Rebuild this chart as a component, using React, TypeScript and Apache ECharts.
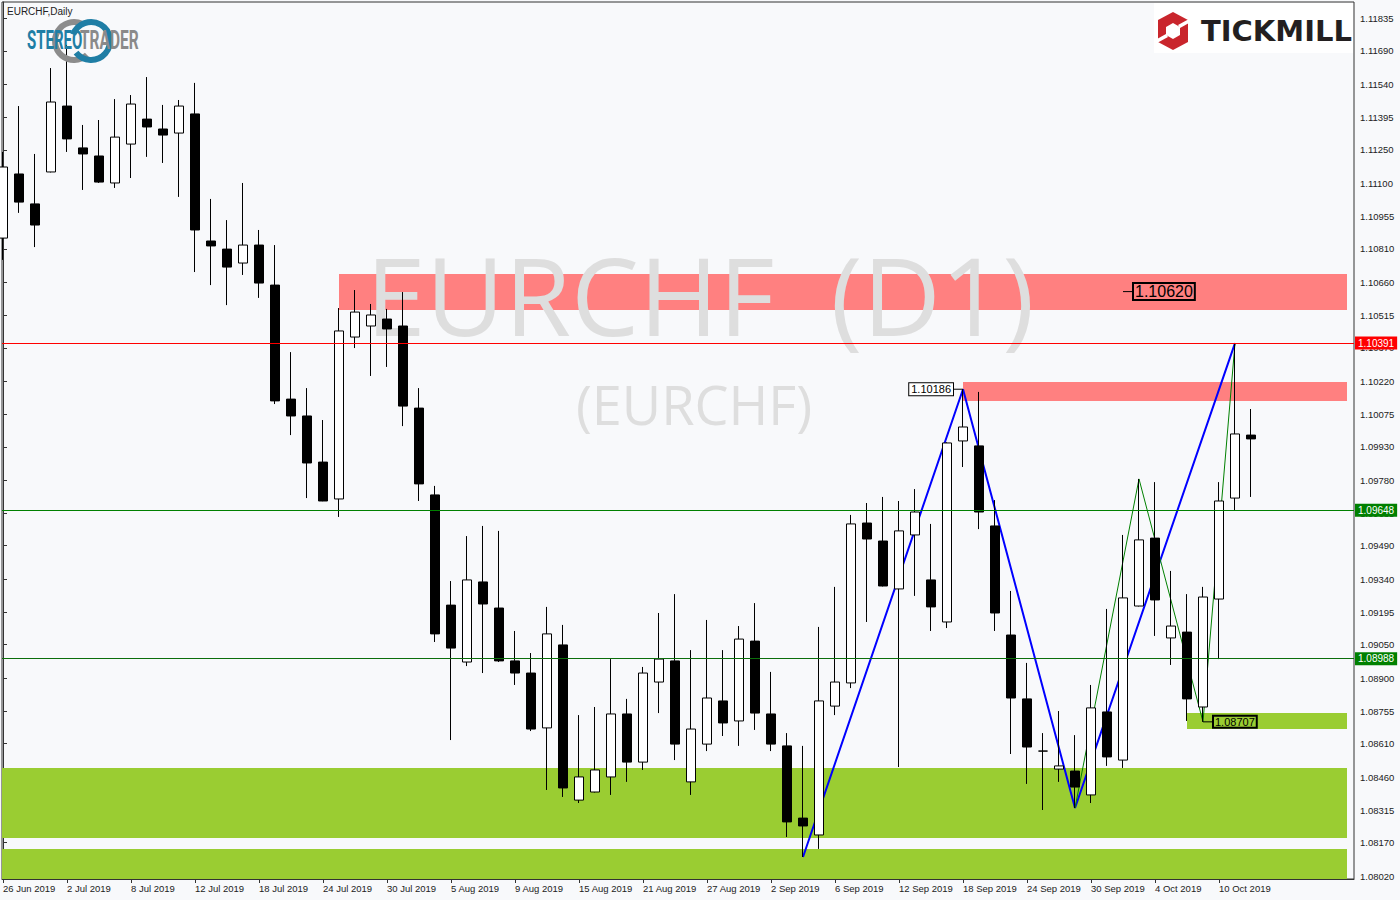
import React, { useEffect, useRef } from "react";
import * as echarts from "echarts";

// ---------- DATA ----------
const dates = [
  "26 Jun 2019", "27 Jun 2019", "28 Jun 2019",
  "1 Jul 2019", "2 Jul 2019", "3 Jul 2019", "4 Jul 2019", "5 Jul 2019", "8 Jul 2019", "9 Jul 2019", "10 Jul 2019",
  "11 Jul 2019", "12 Jul 2019", "15 Jul 2019", "16 Jul 2019", "17 Jul 2019", "18 Jul 2019", "19 Jul 2019", "22 Jul 2019",
  "23 Jul 2019", "24 Jul 2019", "25 Jul 2019", "26 Jul 2019", "29 Jul 2019", "30 Jul 2019", "31 Jul 2019",
  "1 Aug 2019", "2 Aug 2019", "5 Aug 2019", "6 Aug 2019", "7 Aug 2019", "8 Aug 2019", "9 Aug 2019", "12 Aug 2019",
  "13 Aug 2019", "14 Aug 2019", "15 Aug 2019", "16 Aug 2019", "19 Aug 2019", "20 Aug 2019", "21 Aug 2019", "22 Aug 2019",
  "23 Aug 2019", "26 Aug 2019", "27 Aug 2019", "28 Aug 2019", "29 Aug 2019", "30 Aug 2019",
  "2 Sep 2019", "3 Sep 2019", "4 Sep 2019", "5 Sep 2019", "6 Sep 2019", "9 Sep 2019", "10 Sep 2019", "11 Sep 2019",
  "12 Sep 2019", "13 Sep 2019", "16 Sep 2019", "17 Sep 2019", "18 Sep 2019", "19 Sep 2019", "20 Sep 2019", "23 Sep 2019",
  "24 Sep 2019", "25 Sep 2019", "26 Sep 2019", "27 Sep 2019", "30 Sep 2019",
  "1 Oct 2019", "2 Oct 2019", "3 Oct 2019", "4 Oct 2019", "7 Oct 2019", "8 Oct 2019", "9 Oct 2019", "10 Oct 2019",
  "11 Oct 2019", "14 Oct 2019",
];

const opens = [
  1.10858, 1.11143, 1.1101, 1.11152, 1.11445, 1.11259, 1.11223, 1.11103, 1.11276, 1.11387,
  1.11343, 1.11325, 1.1141, 1.10845, 1.10809, 1.10747, 1.10827, 1.10649, 1.10142, 1.10067,
  1.09862, 1.09698, 1.10418, 1.10467, 1.10498, 1.10467, 1.10102, 1.09716, 1.09226, 1.08973,
  1.09329, 1.09213, 1.08978, 1.08924, 1.0868, 1.09049, 1.08359, 1.08395, 1.08462, 1.08742,
  1.08528, 1.08884, 1.08978, 1.0844, 1.08608, 1.088, 1.08711, 1.09066, 1.08742, 1.086,
  1.08279, 1.08204, 1.08777, 1.0888, 1.09591, 1.09511, 1.09298, 1.09538, 1.09338, 1.09151,
  1.09956, 1.09934, 1.09578, 1.09093, 1.08809, 1.08577, 1.08497, 1.08488, 1.08382, 1.08751,
  1.08537, 1.09222, 1.09524, 1.0908, 1.09106, 1.08773, 1.09253, 1.09702, 1.09982,
];

const closes = [
  1.11174, 1.11018, 1.10916, 1.11463, 1.11299, 1.11232, 1.11107, 1.11307, 1.11454, 1.11352,
  1.11316, 1.11445, 1.10894, 1.10823, 1.10729, 1.10827, 1.10658, 1.10134, 1.10067, 1.09858,
  1.09689, 1.10445, 1.10529, 1.10516, 1.10454, 1.10111, 1.09765, 1.09098, 1.09035, 1.09338,
  1.09231, 1.08978, 1.08924, 1.08675, 1.09098, 1.08413, 1.08462, 1.08493, 1.08742, 1.08528,
  1.08924, 1.08986, 1.08608, 1.08675, 1.08813, 1.08702, 1.09075, 1.08746, 1.08608, 1.08262,
  1.08244, 1.088, 1.08884, 1.09587, 1.0952, 1.09311, 1.09556, 1.0964, 1.09218, 1.09947,
  1.10018, 1.0964, 1.09191, 1.08813, 1.08595, 1.08577, 1.08511, 1.08417, 1.08769, 1.08551,
  1.09258, 1.09516, 1.09249, 1.09133, 1.08809, 1.09262, 1.09689, 1.09987, 1.09965,
];

const lows = [
  1.10761, 1.1097, 1.10818, 1.1115, 1.11241, 1.11072, 1.11103, 1.11081, 1.11125, 1.11219,
  1.11192, 1.11041, 1.10707, 1.10649, 1.1056, 1.10694, 1.10592, 1.1012, 1.09982, 1.09702,
  1.09688, 1.09618, 1.10369, 1.10245, 1.10285, 1.10022, 1.09689, 1.09062, 1.08626, 1.08955,
  1.08924, 1.08973, 1.08871, 1.08666, 1.08404, 1.08373, 1.08346, 1.08393, 1.08382, 1.0844,
  1.08493, 1.08746, 1.08537, 1.08382, 1.08577, 1.08644, 1.086, 1.08671, 1.08577, 1.08195,
  1.08106, 1.08142, 1.08737, 1.08857, 1.09151, 1.09309, 1.08506, 1.09267, 1.09111, 1.09124,
  1.0984, 1.09564, 1.09111, 1.08564, 1.08431, 1.08315, 1.0844, 1.08324, 1.08346, 1.08511,
  1.08502, 1.0922, 1.09089, 1.0896, 1.08711, 1.08707, 1.08986, 1.09648, 1.09707,
];

const highs = [
  1.11241, 1.11445, 1.11232, 1.11614, 1.11717, 1.11361, 1.11383, 1.11476, 1.11494, 1.11574,
  1.1145, 1.11472, 1.11548, 1.11032, 1.10938, 1.11103, 1.10894, 1.10827, 1.10351, 1.10191,
  1.10049, 1.10547, 1.10627, 1.10565, 1.10543, 1.10618, 1.10191, 1.09756, 1.09333, 1.09533,
  1.09578, 1.09556, 1.09111, 1.09013, 1.09218, 1.09138, 1.08737, 1.08773, 1.08986, 1.08809,
  1.08951, 1.09191, 1.09275, 1.09026, 1.0916, 1.09026, 1.09133, 1.09235, 1.08929, 1.08657,
  1.086, 1.09129, 1.09307, 1.09627, 1.0968, 1.09707, 1.09689, 1.09742, 1.09587, 1.0995,
  1.10186, 1.10174, 1.09693, 1.09289, 1.08969, 1.08657, 1.08755, 1.08648, 1.08871, 1.09209,
  1.09538, 1.09787, 1.09773, 1.09378, 1.09275, 1.09307, 1.09773, 1.10391, 1.10098,
];

const yTickLabels = [
  "1.08020", "1.08170", "1.08315", "1.08460", "1.08610", "1.08755", "1.08900", "1.09050", "1.09195",
  "1.09340", "1.09490", "1.09635", "1.09780", "1.09930", "1.10075", "1.10220", "1.10370", "1.10515",
  "1.10660", "1.10810", "1.10955", "1.11100", "1.11250", "1.11395", "1.11540", "1.11690", "1.11835",
];
const xLabelIndices = [0, 4, 8, 12, 16, 20, 24, 28, 32, 36, 40, 44, 48, 52, 56, 60, 64, 68, 72, 76];

// zig-zag wave lines (candle index, price)
const blueWaveX = [50, 60, 67, 77];
const blueWaveY = [1.08106, 1.10186, 1.08324, 1.10391];
const greenWaveX = [67, 71, 75, 77];
const greenWaveY = [1.08324, 1.09787, 1.08707, 1.10391];

// horizontal levels
const levelPrices = [1.10391, 1.09648, 1.08988];
const levelColors = ["#ff0000", "#008000", "#0b6e0b"];
const levelLabelBg = ["#ff0000", "#008000", "#008000"];

// zones: start index (null = chart left edge), top, bottom
const resistanceStart = [21, 60];
const resistanceTop = [1.10698, 1.10218];
const resistanceBottom = [1.10538, 1.10134];
const supportStart = [null, null, 74];
const supportTop = [1.08502, 1.08142, 1.08746];
const supportBottom = [1.0819, null, 1.08675];

// price tags
const tagIndex = [70, 60, 75];
const tagPrice = [1.1062, 1.10186, 1.08707];
const tagSide = ["right", "left", "right"];
const tagFontSize = [16, 11, 11];
const tagFill = ["transparent", "#ffffff", "transparent"];

// ---------- AXIS RANGE ----------
const X_MIN = -0.0625;
const X_MAX = 84.4375;
const ZONE_END = 84;
const Y_MIN = 1.080082;
const Y_MAX = 1.119077;

const AXIS_FONT = "'Liberation Sans', Arial, sans-serif";
const AXIS_SIZE = 9.5;

export default function App() {
  const ref = useRef<HTMLDivElement>(null);

  useEffect(() => {
    document.body.style.margin = "0";
    const chart = echarts.init(ref.current!, null, { renderer: "svg" });

    const candleData = dates.map((_, i) => [i, opens[i], closes[i], lows[i], highs[i]]);

    const zones: any[] = [];
    resistanceStart.forEach((s, k) => {
      zones.push([
        { xAxis: s, yAxis: resistanceTop[k], itemStyle: { color: "#ff8080" } },
        { xAxis: ZONE_END, yAxis: resistanceBottom[k] },
      ]);
    });
    supportStart.forEach((s, k) => {
      zones.push([
        { xAxis: s == null ? X_MIN : s, yAxis: supportTop[k], itemStyle: { color: "#9acd32" } },
        { xAxis: ZONE_END, yAxis: supportBottom[k] == null ? Y_MIN : supportBottom[k] },
      ]);
    });

    const levelLines = levelPrices.map((p, k) => [
      {
        coord: [X_MIN, p],
        lineStyle: { color: levelColors[k], width: 1, type: "solid" },
        label: {
          show: true,
          position: "end",
          distance: 1,
          formatter: p.toFixed(5),
          color: "#ffffff",
          backgroundColor: levelLabelBg[k],
          padding: [2, 3, 1, 3],
          fontSize: AXIS_SIZE + 0.5,
          fontFamily: AXIS_FONT,
        },
      },
      { coord: [X_MAX, p] },
    ]);

    const tags = tagIndex.map((ix, k) => ({
      coord: [ix, tagPrice[k]],
      symbol: "rect",
      symbolSize: [10, 1],
      symbolOffset: [tagSide[k] === "right" ? 5 : -5, 0],
      itemStyle: { color: "#000000" },
      label: {
        show: true,
        position: tagSide[k],
        distance: 0,
        formatter: tagPrice[k].toFixed(5),
        color: "#000000",
        fontSize: tagFontSize[k],
        fontFamily: AXIS_FONT,
        borderColor: "#000000",
        borderWidth: 1,
        backgroundColor: tagFill[k],
        padding: [1, 2, 0, 2],
      },
    }));

    const option: any = {
      animation: false,
      backgroundColor: "#f8f9fb",
      textStyle: { fontFamily: AXIS_FONT },
      grid: {
        left: 2,
        top: 2,
        right: 46,
        bottom: 21,
        show: true,
        backgroundColor: "#f8f9fb",
        borderColor: "#333333",
        borderWidth: 1,
        containLabel: false,
        outerBoundsMode: "none",
      },
      xAxis: {
        type: "value",
        min: X_MIN,
        max: X_MAX,
        splitLine: { show: false },
        axisLine: { show: true, onZero: false, lineStyle: { color: "#333333", width: 1 } },
        axisTick: {
          show: true,
          inside: false,
          length: 4,
          customValues: xLabelIndices,
          lineStyle: { color: "#333333" },
        },
        axisLabel: {
          show: true,
          customValues: xLabelIndices,
          formatter: (v: number) => dates[Math.round(v)] ?? "",
          align: "left",
          margin: 4,
          fontSize: AXIS_SIZE,
          color: "#222222",
          fontFamily: AXIS_FONT,
        },
      },
      yAxis: {
        type: "value",
        position: "right",
        min: Y_MIN,
        max: Y_MAX,
        scale: true,
        splitLine: { show: false },
        axisLine: { show: true, lineStyle: { color: "#333333", width: 1 } },
        axisTick: {
          show: true,
          inside: false,
          length: 4,
          customValues: yTickLabels.map((s) => parseFloat(s)),
          lineStyle: { color: "#333333" },
        },
        axisLabel: {
          show: true,
          customValues: yTickLabels.map((s) => parseFloat(s)),
          formatter: (v: number) => v.toFixed(5),
          margin: 6,
          fontSize: AXIS_SIZE,
          color: "#222222",
          fontFamily: AXIS_FONT,
        },
      },
      series: [
        {
          type: "line",
          name: "wave",
          z: 1.8,
          data: blueWaveX.map((x, k) => [x, blueWaveY[k]]),
          showSymbol: false,
          symbol: "none",
          lineStyle: { color: "#0000ff", width: 2 },
          silent: true,
          markLine: {
            silent: true,
            z: 5,
            symbol: ["none", "none"],
            data: levelLines,
          },
        },
        {
          type: "line",
          name: "subwave",
          z: 1.8,
          data: greenWaveX.map((x, k) => [x, greenWaveY[k]]),
          showSymbol: false,
          symbol: "none",
          lineStyle: { color: "#008000", width: 1 },
          silent: true,
        },
        {
          type: "candlestick",
          name: "EURCHF",
          z: 2,
          data: candleData,
          encode: { x: 0, y: [1, 2, 3, 4] },
          barWidth: 10,
          itemStyle: {
            color: "#ffffff",
            color0: "#000000",
            borderColor: "#000000",
            borderColor0: "#000000",
            borderColorDoji: "#000000",
            borderWidth: 1,
          },
          markArea: {
            silent: true,
            z: 1,
            data: zones,
          },
          markPoint: {
            silent: true,
            z: 6,
            data: tags,
          },
        },
      ],
      graphic: [
        {
          type: "text",
          z: 1.5,
          x: 700,
          y: 294,
          silent: true,
          style: {
            text: "EURCHF  (D1)",
            fill: "#dedede",
            fontSize: 108,
            fontFamily: "'Open Sans', sans-serif",
            align: "center",
            verticalAlign: "middle",
            textAlign: "center",
            textVerticalAlign: "middle",
          },
        },
        {
          type: "text",
          z: 1.5,
          x: 694,
          y: 404,
          silent: true,
          style: {
            text: "(EURCHF)",
            fill: "#dedede",
            fontSize: 54,
            fontFamily: "'Open Sans', sans-serif",
            align: "center",
            verticalAlign: "middle",
            textAlign: "center",
            textVerticalAlign: "middle",
          },
        },
        {
          type: "text",
          z: 10,
          x: 7,
          y: 11,
          silent: true,
          style: {
            text: "EURCHF,Daily",
            fill: "#222222",
            fontSize: 10,
            fontFamily: "'Liberation Sans', Arial, sans-serif",
            align: "left",
            verticalAlign: "middle",
            textAlign: "left",
            textVerticalAlign: "middle",
          },
        },
        // StereoTrader logo
        {
          type: "arc",
          z: 10,
          silent: true,
          shape: { cx: 74, cy: 41, r: 19, startAngle: (47 * Math.PI) / 180, endAngle: (295 * Math.PI) / 180, clockwise: true },
          style: { stroke: "#8c8c8c", lineWidth: 6, fill: "none" },
        },
        {
          type: "arc",
          z: 10,
          silent: true,
          shape: { cx: 91, cy: 41, r: 19, startAngle: (-160 * Math.PI) / 180, endAngle: (142 * Math.PI) / 180, clockwise: true },
          style: { stroke: "#1f7ea5", lineWidth: 6, fill: "none" },
        },
        {
          type: "text",
          z: 11,
          x: 27,
          y: 41,
          scaleX: 0.6,
          silent: true,
          style: {
            text: "STEREO",
            fill: "#1f7ea5",
            fontSize: 25,
            fontWeight: "bold",
            fontFamily: "Roboto, sans-serif",
            align: "left",
            verticalAlign: "middle",
            textAlign: "left",
            textVerticalAlign: "middle",
          },
        },
        {
          type: "text",
          z: 11,
          x: 80,
          y: 41,
          scaleX: 0.62,
          silent: true,
          style: {
            text: "TRADER",
            fill: "#8a8a8a",
            fontSize: 25,
            fontWeight: "bold",
            fontFamily: "Roboto, sans-serif",
            align: "left",
            verticalAlign: "middle",
            textAlign: "left",
            textVerticalAlign: "middle",
          },
        },
        // Tickmill logo
        {
          type: "rect",
          z: 10,
          silent: true,
          shape: { x: 1154, y: 3, width: 199, height: 50 },
          style: { fill: "#ffffff" },
        },
        {
          type: "polygon",
          z: 11,
          silent: true,
          shape: { points: [[1173, 12], [1188, 20], [1188, 42], [1173, 50], [1158, 42], [1158, 20]] },
          style: { fill: "#c9252c" },
        },
        {
          type: "polygon",
          z: 12,
          silent: true,
          shape: { points: [[1173, 23], [1180, 27], [1180, 35], [1173, 39], [1166, 35], [1166, 27]] },
          style: { fill: "#ffffff" },
        },
        {
          type: "polygon",
          z: 12,
          silent: true,
          shape: { points: [[1178, 25], [1189, 19], [1189, 23], [1180, 28]] },
          style: { fill: "#ffffff" },
        },
        {
          type: "polygon",
          z: 12,
          silent: true,
          shape: { points: [[1168, 37], [1157, 43], [1157, 39], [1166, 34]] },
          style: { fill: "#ffffff" },
        },
        {
          type: "text",
          z: 11,
          x: 1201,
          y: 31,
          silent: true,
          style: {
            text: "TICKMILL",
            fill: "#231f20",
            fontSize: 29,
            fontWeight: "bold",
            fontFamily: "'DejaVu Sans', sans-serif",
            align: "left",
            verticalAlign: "middle",
            textAlign: "left",
            textVerticalAlign: "middle",
          },
        },
      ],
    };

    chart.setOption(option);
    return () => chart.dispose();
  }, []);

  return <div ref={ref} style={{ position: "absolute", left: 0, top: 0, width: 1400, height: 900 }} />;
}
